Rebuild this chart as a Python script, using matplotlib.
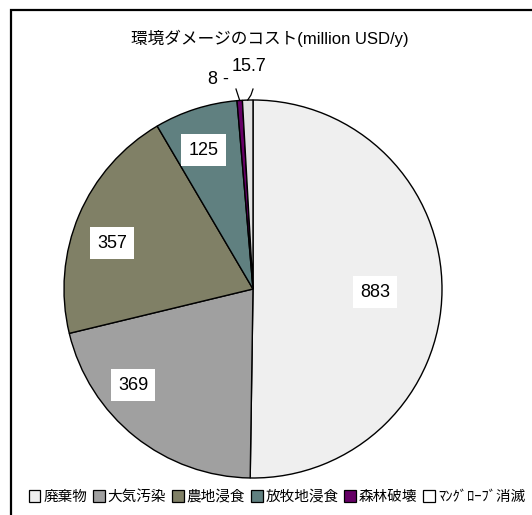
import matplotlib
matplotlib.use("Agg")
import matplotlib.pyplot as plt
from matplotlib.patches import Rectangle, Patch
import numpy as np

plt.rcParams['font.family'] = ['Liberation Sans', 'Noto Sans CJK JP', 'DejaVu Sans']

title = "環境ダメージのコスト(million USD/y)"
categories = ["廃棄物", "大気汚染", "農地浸食", "放牧地浸食", "森林破壊", "ﾏﾝｸﾞﾛｰﾌﾞ消滅"]
values = [883, 369, 357, 125, 8, 15.7]
value_labels = ["883", "369", "357", "125", "8 -", "15.7"]
colors = ["#EFEFEF", "#A0A0A0", "#808066", "#608080", "#660066", "#E2E2E2"]

W, H = 532, 515
fig = plt.figure(figsize=(W / 100, H / 100), dpi=100)
fig.patch.set_facecolor("white")

# Pie geometry in pixels
cx, cy_top, R = 253, 289, 189
cy = H - cy_top
xl, xr, yb, yt = -1.1, 1.1, -1.1, 1.3
ax = fig.add_axes([(cx + xl * R) / W, (cy + yb * R) / H, (xr - xl) * R / W, (yt - yb) * R / H])

wedges, _ = ax.pie(values, colors=colors, startangle=90, counterclock=False,
                   radius=1.0, center=(0, 0), frame=True,
                   wedgeprops=dict(edgecolor="black", linewidth=1.0))
ax.set_xlim(xl, xr)
ax.set_ylim(yb, yt)
ax.set_aspect("equal")
ax.axis("off")

# data label positions (in units of radius)
big_pos = [(0.646, -0.016), (-0.635, -0.508), (-0.746, 0.243), (-0.262, 0.735)]
for lab, (x, y) in zip(value_labels[:4], big_pos):
    ax.text(x, y, lab, ha="center", va="center", fontsize=13,
            bbox=dict(boxstyle="square,pad=0.4", fc="white", ec="none"))

# small slices with leader lines
def edge_point(w, frac):
    a = np.deg2rad(w.theta1 + (w.theta2 - w.theta1) * frac)
    return np.cos(a), np.sin(a)

ax.text(-0.125, 1.106, value_labels[4], ha="right", va="center", fontsize=13)
px, py = edge_point(wedges[4], 0.5)
ax.plot([-0.09, px], [1.058, py], color="black", lw=0.9)

ax.text(-0.02, 1.175, value_labels[5], ha="center", va="center", fontsize=13)
qx, qy = edge_point(wedges[5], 0.5)
ax.plot([0.0, -0.011, qx], [1.058, 1.026, qy], color="black", lw=0.9)

# title
fig.text(270 / W, 1 - 38 / H, title, ha="center", va="center", fontsize=12)

# legend
handles = [Patch(facecolor=c, edgecolor="black", linewidth=0.9) for c in colors]
handles[-1] = Patch(facecolor="white", edgecolor="black", linewidth=0.9)
fig.legend(handles, categories, loc="center", bbox_to_anchor=(277 / W, 1 - 497 / H),
           ncol=6, frameon=False, fontsize=10.5, handlelength=0.8, handleheight=0.8,
           handletextpad=0.2, columnspacing=0.4, borderaxespad=0)

# chart border
fig.add_artist(Rectangle((11 / W, -0.1), 1.2, 1 - 10 / H + 0.1, transform=fig.transFigure,
                         fill=False, edgecolor="black", linewidth=1.6))

fig.savefig("out.png", dpi=100)
